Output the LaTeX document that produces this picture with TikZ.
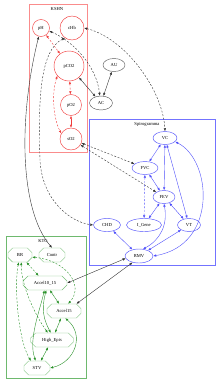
\documentclass[tikz,border=0pt]{standalone}
\usepackage{fontspec}
\setmainfont{Liberation Serif}
\usetikzlibrary{shapes.geometric,shapes.misc,arrows.meta}
\definecolor{ksred}{RGB}{240,60,60}
\definecolor{ksframe}{RGB}{250,140,140}
\definecolor{spblue}{RGB}{80,80,250}
\definecolor{ktgreen}{RGB}{40,145,40}
\definecolor{ktline}{RGB}{120,190,120}
\definecolor{ktframe}{RGB}{110,185,110}
\definecolor{plgray}{RGB}{90,90,90}

\begin{document}
\begin{tikzpicture}[x=1pt,y=-1pt,
  font=\fontsize{4.6}{5.5}\selectfont,
  >={Latex[length=3pt,width=2.4pt]},
  ksnode/.style={circle,draw=ksred,inner sep=0pt,line width=0.45pt},
  spnode/.style={ellipse,draw=spblue,inner sep=0pt,minimum height=13pt,line width=0.45pt},
  ktnode/.style={chamfered rectangle,chamfered rectangle xsep=3.5pt,draw=ktline,inner sep=0pt,minimum height=14pt,line width=0.45pt},
  plnode/.style={ellipse,draw=plgray,inner sep=0pt,minimum height=13pt,line width=0.45pt},
  kslink/.style={<->,ksred,line width=0.4pt},
  splink/.style={<->,spblue,line width=0.4pt},
  ktlink/.style={<->,ktgreen,line width=0.4pt},
  bklink/.style={<->,black!80,line width=0.4pt},
  dashline/.style={dash pattern=on 2pt off 1.6pt}]
\useasboundingbox (0,0) rectangle (218,383); %Page size of the reference
%Clusters
\draw[draw=ksframe,line width=0.5pt] (29,4) rectangle (87,152); %KSHN
\node (kshnlabel) at (57,9) {KSHN};
\draw[draw=blue!55,line width=0.5pt] (89,119) rectangle (215,265); %Spirogramma
\node (spirolabel) at (147,124) {Spirogramma};
\draw[draw=ktframe,line width=0.5pt] (6,236) rectangle (86,378); %KTG
\node (ktglabel) at (43,241) {KTG};
%KSHN nodes
\node[ksnode,minimum size=17pt] (pH) at (41,28) {pH};
\node[ksnode,minimum size=24pt] (cHb) at (72,28) {cHb};
\node[ksnode,minimum size=30pt] (pCO2) at (69,66) {pCO2};
\node[ksnode,minimum size=21pt] (pO2) at (71,105) {pO2};
\node[ksnode,minimum size=22pt] (sO2) at (71,139) {sO2};
%Free nodes
\node[plnode,minimum width=22pt] (AU) at (114,65) {AU};
\node[plnode,minimum width=23pt,minimum height=14pt] (AC) at (101,103) {AC};
%Spirogramma nodes
\node[spnode,minimum width=24pt] (VC) at (165,138) {VC};
\node[spnode,minimum width=26pt] (FVC) at (145,168) {FVC};
\node[spnode,minimum width=22pt] (FEV) at (164,197) {FEV};
\node[spnode,minimum width=27pt] (CHD) at (107,225) {CHD};
\node[spnode,minimum width=35pt] (IGene) at (144,225) {I\_Gene};
\node[spnode,minimum width=23pt] (VT) at (189,225) {VT};
\node[spnode,minimum width=28pt,minimum height=14pt] (RMV) at (139,256) {RMV};
%KTG nodes
\node[ktnode,minimum width=24pt] (BR) at (20,255) {BR};
\node[ktnode,minimum width=26pt] (Contr) at (52,255) {Contr};
\node[ktnode,minimum width=44pt] (Accel1015) at (45,283) {Accel10\_15};
\node[ktnode,minimum width=34pt] (Accel15) at (64,311) {Accel15};
\node[ktnode,minimum width=43pt] (HighEpis) at (52,340) {High\_Epis};
\node[ktnode,minimum width=26pt] (STV) at (37,368) {STV};
%KSHN links
\draw[kslink,dashline] (pH) -- (pCO2);
\draw[kslink,dashline] (pCO2) -- (pO2);
\draw[kslink,dashline] (pCO2.220) .. controls (51,95) and (54,120) .. (sO2.150);
\draw[kslink] (pO2) -- (sO2);
%Black links
\draw[bklink] (pCO2) -- (AC);
\draw[bklink] (AU) -- (AC);
\draw[bklink,dashline] (pH.-20) .. controls (75,42) and (97,68) .. (AC.100);
\draw[bklink,dashline] (cHb.east) .. controls (125,38) and (163,90) .. (VC.north);
\draw[bklink,dashline] (cHb.235) .. controls (40,50) and (38,100) .. (40,160) .. controls (42,200) and (70,222) .. (CHD.west);
\draw[bklink] (pH.255) .. controls (18,120) and (20,210) .. (Contr.north);
\draw[bklink,dashline] (sO2) -- (FVC);
\draw[bklink,dashline] (sO2) -- (FEV);
\draw[bklink] (RMV.190) -- (Accel1015.east);
\draw[bklink] (RMV.225) -- (Accel15.30);
%Spirogramma links
\draw[splink] (VC) -- (FVC);
\draw[splink] (VC) -- (FEV);
\draw[splink] (VC) -- (VT);
\draw[splink] (VC.-20) .. controls (212,160) and (218,245) .. (RMV.east);
\draw[splink] (FVC) -- (FEV);
\draw[splink,dashline] (FVC) -- (IGene);
\draw[splink] (FEV) -- (IGene);
\draw[splink] (FEV) -- (VT);
\draw[splink] (FEV.south) .. controls (168,225) and (160,240) .. (RMV.60);
\draw[splink] (CHD) -- (RMV);
\draw[splink] (VT) -- (RMV);
%KTG links
\draw[ktlink,dashline] (BR) -- (Accel1015);
\draw[ktlink,dashline] (BR.-10) .. controls (65,260) and (85,285) .. (Accel15.60);
\draw[ktlink,dashline] (BR.-100) .. controls (14,285) and (18,340) .. (STV.130);
\draw[ktlink,dashline] (BR.-80) .. controls (21,285) and (35,315) .. (HighEpis.120);
\draw[ktlink] (Accel1015) -- (Accel15);
\draw[ktlink] (Accel1015.-80) .. controls (41,310) and (44,320) .. (HighEpis.100);
\draw[ktlink] (Accel1015.-95) .. controls (40,310) and (28,340) .. (STV.100);
\draw[ktlink] (Accel15) -- (HighEpis);
\draw[ktlink] (Accel15.-80) .. controls (85,335) and (75,362) .. (STV.east);
\draw[ktlink] (HighEpis) -- (STV);
\end{tikzpicture}
\end{document}
